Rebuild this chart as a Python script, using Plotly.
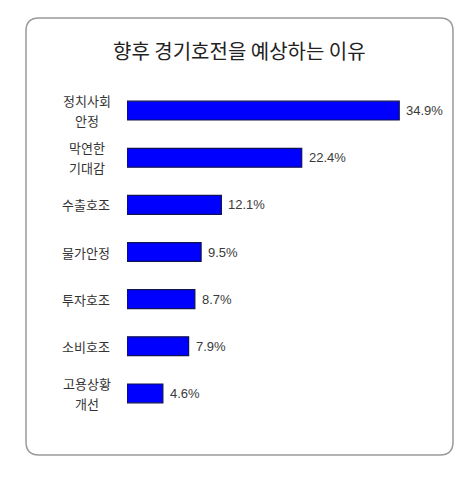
import plotly.graph_objects as go

categories = ["정치사회<br>안정", "막연한<br>기대감", "수출호조", "물가안정", "투자호조", "소비호조", "고용상황<br>개선"]
values = [34.9, 22.4, 12.1, 9.5, 8.7, 7.9, 4.6]
value_labels = ["34.9%", "22.4%", "12.1%", "9.5%", "8.7%", "7.9%", "4.6%"]
title_text = "향후 경기호전을 예상하는 이유"

W, H = 470, 480
OFF = 8  # page body margin offset
ML, MR, MT, MB = 127 - OFF, 31 + OFF, 87 - OFF, 63 + OFF
PW = W - ML - MR
PH = H - MT - MB

def px_to_paper_x(px):
    return (px - OFF - ML) / PW

def px_to_paper_y(py):
    return (H - MB - (py - OFF)) / PH

fig = go.Figure()
fig.add_trace(go.Bar(
    y=categories, x=values, orientation="h",
    marker=dict(color="#0000FF", line=dict(color="#111155", width=1.2)),
    hoverinfo="skip",
))

# Rounded frame
L, R, T, B, r = 26, 453, 18, 455, 13
def P(x, y):
    return f"{px_to_paper_x(x):.5f},{px_to_paper_y(y):.5f}"
path = (f"M {P(L + r, T)} L {P(R - r, T)} Q {P(R, T)} {P(R, T + r)} "
        f"L {P(R, B - r)} Q {P(R, B)} {P(R - r, B)} "
        f"L {P(L + r, B)} Q {P(L, B)} {P(L, B - r)} "
        f"L {P(L, T + r)} Q {P(L, T)} {P(L + r, T)} Z")
fig.add_shape(type="path", path=path, xref="paper", yref="paper",
              line=dict(color="#9a9a9a", width=1.5), fillcolor="rgba(0,0,0,0)", layer="below")

annotations = []
for cat in categories:
    lines = cat.split("<br>")
    n = len(lines)
    for i, ln in enumerate(lines):
        shift = (n - 1) * 10 - i * 20
        annotations.append(dict(
            x=px_to_paper_x(87 if n > 1 else 112), xref="paper",
            xanchor="center" if n > 1 else "right",
            y=cat, yref="y", yshift=shift, text=ln, showarrow=False,
            font=dict(family="Noto Sans CJK KR", size=13, color="#333333"),
        ))

for cat, v, lab in zip(categories, values, value_labels):
    annotations.append(dict(
        x=v, xref="x", y=cat, yref="y", xanchor="left", xshift=5,
        text=lab, showarrow=False,
        font=dict(family="Liberation Sans, Arial, sans-serif", size=13, color="#3a3a3a"),
    ))

annotations.append(dict(
    x=px_to_paper_x(239), xref="paper", y=px_to_paper_y(50), yref="paper",
    xanchor="center", yanchor="middle", text=title_text, showarrow=False,
    font=dict(family="Noto Sans CJK KR", size=20, color="#222222"),
))

fig.update_layout(
    width=W, height=H,
    margin=dict(l=ML, r=MR, t=MT, b=MB),
    paper_bgcolor="white", plot_bgcolor="white",
    showlegend=False, bargap=0.6,
    xaxis=dict(range=[0, 40], visible=False, fixedrange=True),
    yaxis=dict(categoryorder="array", categoryarray=categories, autorange="reversed",
               visible=False, fixedrange=True),
    annotations=annotations,
)
fig.write_html("out.html", config={"displayModeBar": False})
